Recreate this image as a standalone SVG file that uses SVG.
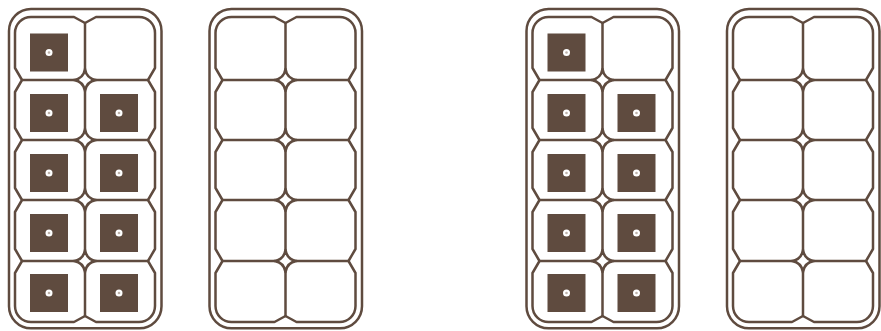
<svg xmlns="http://www.w3.org/2000/svg" xmlns:xlink="http://www.w3.org/1999/xlink" width="881" height="331" viewBox="0 0 881 331">
  <style>
    .ln { fill: none; stroke: #5f4b3f; stroke-width: 2.5; stroke-linejoin: round; stroke-linecap: round; }
    .sq { fill: #5f4b3f; }
    .dot { fill: #ffffff; }
    .pip { fill: #bdb3ac; }
  </style>
  <defs>
    <path id="star" class="ln" d="M-11 0 Q-1.5 -1.5 0 -11 Q1.5 -1.5 11 0 Q1.5 1.5 0 11 Q-1.5 1.5 -11 0 Z"/>
    <g id="frame">
      <rect class="ln" x="9" y="9" width="152.5" height="319.3" rx="22" ry="22"/>
      <path class="ln" d="M31 17 H74 L85 23 L96 17 H139 A16 16 0 0 1 155 33 V68 L148 80 L155 92 V128 L148 140 L155 152 V188 L148 200 L155 212 V249 L148 261 L155 273 V306 A16 16 0 0 1 139 322 H96 L85 316 L74 322 H31 A16 16 0 0 1 15 306 V273 L22 261 L15 249 V212 L22 200 L15 188 V152 L22 140 L15 128 V92 L22 80 L15 68 V33 A16 16 0 0 1 31 17 Z"/>
      <path class="ln" d="M22 80 H74 M96 80 H148 M22 140 H74 M96 140 H148 M22 200 H74 M96 200 H148 M22 261 H74 M96 261 H148"/>
      <path class="ln" d="M85 23 V69 M85 91 V129 M85 151 V189 M85 211 V250 M85 272 V316"/>
      <use xlink:href="#star" x="85" y="80"/>
      <use xlink:href="#star" x="85" y="140"/>
      <use xlink:href="#star" x="85" y="200"/>
      <use xlink:href="#star" x="85" y="261"/>
    </g>
    <g id="counter">
      <rect class="sq" x="0" y="0" width="38" height="38"/>
      <circle class="dot" cx="19" cy="19" r="3.5"/>
      <circle class="pip" cx="19" cy="19" r="1.3"/>
    </g>
  </defs>

  <g id="carton1">
    <use xlink:href="#frame"/>
    <use xlink:href="#counter" x="30" y="33.5"/>
    <use xlink:href="#counter" x="30" y="94"/>
    <use xlink:href="#counter" x="100" y="94"/>
    <use xlink:href="#counter" x="30" y="154"/>
    <use xlink:href="#counter" x="100" y="154"/>
    <use xlink:href="#counter" x="30" y="214"/>
    <use xlink:href="#counter" x="100" y="214"/>
    <use xlink:href="#counter" x="30" y="274"/>
    <use xlink:href="#counter" x="100" y="274"/>
  </g>

  <g id="carton2" transform="translate(200.5 0)">
    <use xlink:href="#frame"/>
  </g>

  <g id="carton3" transform="translate(517.5 0)">
    <use xlink:href="#frame"/>
    <use xlink:href="#counter" x="30" y="33.5"/>
    <use xlink:href="#counter" x="30" y="94"/>
    <use xlink:href="#counter" x="100" y="94"/>
    <use xlink:href="#counter" x="30" y="154"/>
    <use xlink:href="#counter" x="100" y="154"/>
    <use xlink:href="#counter" x="30" y="214"/>
    <use xlink:href="#counter" x="100" y="214"/>
    <use xlink:href="#counter" x="30" y="274"/>
    <use xlink:href="#counter" x="100" y="274"/>
  </g>

  <g id="carton4" transform="translate(718 0)">
    <use xlink:href="#frame"/>
  </g>

  <g id="connectors"/>
</svg>
